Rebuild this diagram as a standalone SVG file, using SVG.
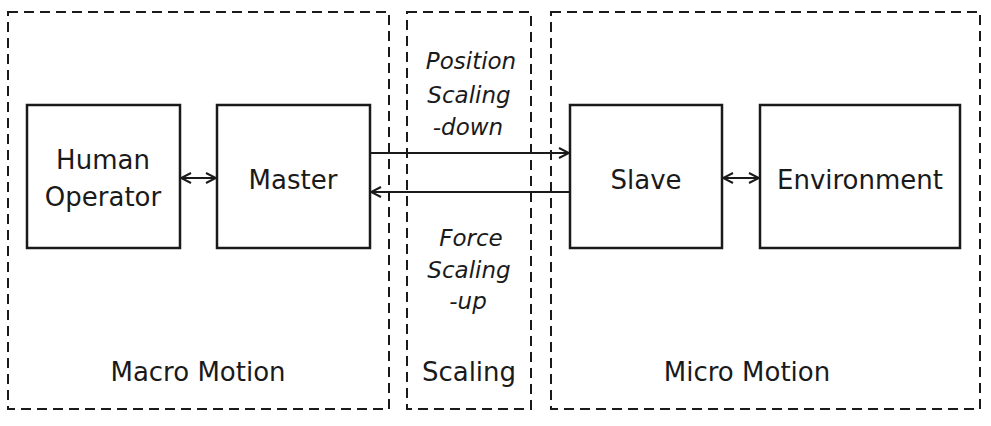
<svg xmlns="http://www.w3.org/2000/svg" width="991" height="426" viewBox="0 0 991 426">
<style>
.region{fill:none;stroke:#1a1a1a;stroke-width:2;stroke-dasharray:10 6}
.box{fill:#fff;stroke:#1a1a1a;stroke-width:2.5}
.lbl{font-family:"DejaVu Sans",sans-serif;font-size:26px;fill:#1a1a1a;text-anchor:middle}
.it{font-family:"DejaVu Sans",sans-serif;font-size:23px;font-style:italic;fill:#1a1a1a;text-anchor:middle}
.conn{fill:none;stroke:#1a1a1a;stroke-width:1.8}
</style>
<defs>
<marker id="ah" viewBox="0 0 12 12" refX="11" refY="6" markerWidth="12" markerHeight="12" markerUnits="userSpaceOnUse" orient="auto-start-reverse">
<path d="M1,1 L11,6 L1,11" fill="none" stroke="#1a1a1a" stroke-width="2"/>
</marker>
</defs>
<g id="macro">
<rect class="region" x="8" y="12" width="381" height="397"/>
<text class="lbl" x="198" y="381">Macro Motion</text>
</g>
<g id="scaling">
<rect class="region" x="407" y="12" width="124" height="397"/>
<text class="lbl" x="469" y="381">Scaling</text>
<text class="it" x="471" y="69">Position</text>
<text class="it" x="469" y="103">Scaling</text>
<text class="it" x="468" y="135">-down</text>
<text class="it" x="471" y="246">Force</text>
<text class="it" x="469" y="278">Scaling</text>
<text class="it" x="468" y="309">-up</text>
</g>
<g id="micro">
<rect class="region" x="551" y="12" width="429" height="397"/>
<text class="lbl" x="747" y="381">Micro Motion</text>
</g>
<g id="human">
<rect class="box" x="27" y="105" width="153" height="143"/>
<text class="lbl" x="103" y="169">Human</text>
<text class="lbl" x="103" y="206">Operator</text>
</g>
<g id="master">
<rect class="box" x="217" y="105" width="153" height="143"/>
<text class="lbl" x="293" y="189">Master</text>
</g>
<g id="slave">
<rect class="box" x="570" y="105" width="152" height="143"/>
<text class="lbl" x="646" y="189">Slave</text>
</g>
<g id="environment">
<rect class="box" x="760" y="105" width="200" height="143"/>
<text class="lbl" x="860" y="189">Environment</text>
</g>
<g id="connectors">
<line class="conn" x1="181" y1="178" x2="216" y2="178" marker-start="url(#ah)" marker-end="url(#ah)"/>
<line class="conn" x1="723" y1="178" x2="759" y2="178" marker-start="url(#ah)" marker-end="url(#ah)"/>
<line class="conn" x1="371" y1="153" x2="569" y2="153" marker-end="url(#ah)"/>
<line class="conn" x1="569" y1="192" x2="371" y2="192" marker-end="url(#ah)"/>
</g>
</svg>
